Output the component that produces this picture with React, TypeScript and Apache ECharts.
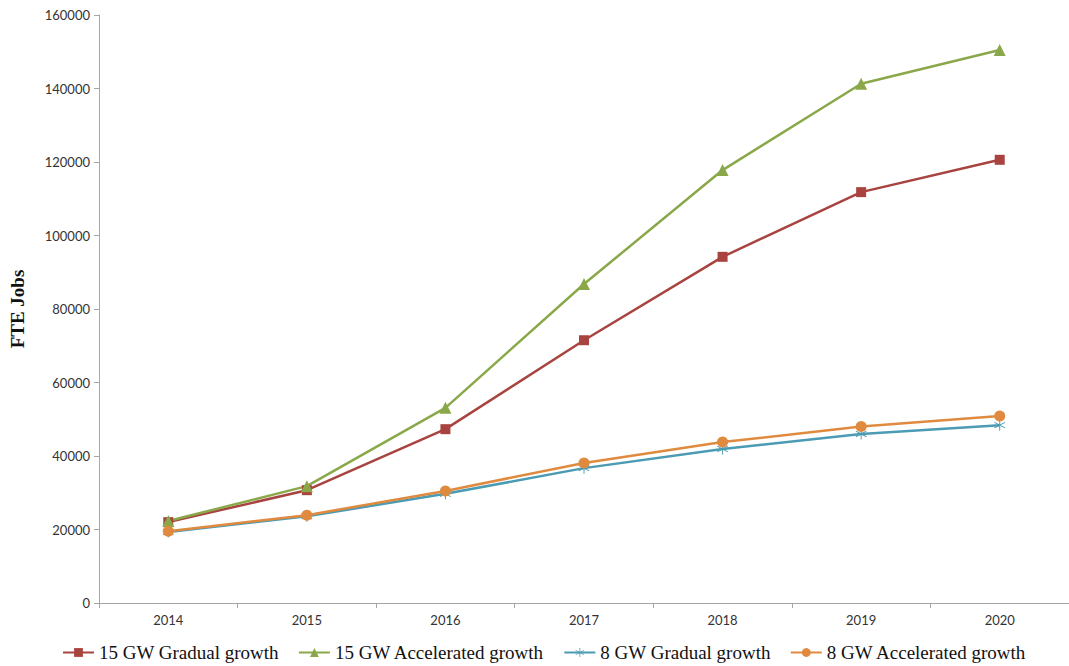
import React, { useEffect, useRef } from "react";
import * as echarts from "echarts";

const years = ["2014", "2015", "2016", "2017", "2018", "2019", "2020"];
const gw15Gradual = [22000, 30700, 47300, 71500, 94200, 111800, 120600];
const gw15Accelerated = [22300, 31800, 53100, 86800, 117800, 141300, 150500];
const gw8Gradual = [19300, 23600, 29700, 36700, 41900, 46000, 48400];
const gw8Accelerated = [19500, 23900, 30500, 38100, 43800, 48000, 50900];

const asterisk =
  "path://M-0.4,-5L0.4,-5L0.4,5L-0.4,5Z M-4.5,-2.2L-4.1,-2.9L4.5,2.2L4.1,2.9Z M-4.5,2.2L-4.1,2.9L4.5,-2.2L4.1,-2.9Z";

export default function App() {
  const ref = useRef<HTMLDivElement>(null);
  useEffect(() => {
    const chart = echarts.init(ref.current!, null, { renderer: "svg" });
    const serif = "'Liberation Serif', 'DejaVu Serif', serif";
    const sans = "Lato, 'Open Sans', sans-serif";
    const mk = (name: string, data: number[], color: string, symbol: string, size: number) => ({
      name,
      type: "line",
      data,
      symbol,
      symbolSize: size,
      showAllSymbol: true,
      lineStyle: { color, width: 2.5 },
      itemStyle: { color },
    });
    chart.setOption({
      animation: false,
      backgroundColor: "#ffffff",
      grid: { left: 99, top: 15, width: 976.5, height: 588 },
      legend: {
        left: 62,
        top: 643,
        padding: 0,
        itemWidth: 31,
        itemHeight: 11,
        itemGap: 19,
        textStyle: { fontFamily: serif, fontSize: 19, color: "#111" },
        data: [
          "15 GW Gradual growth",
          "15 GW Accelerated growth",
          "8 GW Gradual growth",
          "8 GW Accelerated growth",
        ],
      },
      xAxis: {
        type: "category",
        data: years,
        boundaryGap: true,
        axisLine: { lineStyle: { color: "#a6a6a6", width: 1 } },
        axisTick: { show: true, length: 5, lineStyle: { color: "#a6a6a6" } },
        axisLabel: { fontFamily: sans, fontSize: 13, color: "#333", margin: 10 },
      },
      yAxis: {
        type: "value",
        min: 0,
        max: 160000,
        interval: 20000,
        name: "FTE Jobs",
        nameLocation: "middle",
        nameGap: 72,
        nameTextStyle: { fontFamily: serif, fontSize: 19, fontWeight: "bold", color: "#111" },
        splitLine: { show: false },
        axisLine: { show: true, lineStyle: { color: "#a6a6a6", width: 1 } },
        axisTick: { show: true, length: 5, lineStyle: { color: "#a6a6a6" } },
        axisLabel: {
          fontFamily: sans,
          fontSize: 13,
          color: "#333",
          margin: 9,
          formatter: (v: number) => String(v),
        },
      },
      series: [
        mk("15 GW Gradual growth", gw15Gradual, "#a8433f", "rect", 10),
        mk("15 GW Accelerated growth", gw15Accelerated, "#8aa84a", "triangle", 12),
        mk("8 GW Gradual growth", gw8Gradual, "#4a9bb3", asterisk, 11),
        mk("8 GW Accelerated growth", gw8Accelerated, "#e08a3f", "circle", 11),
      ],
    });
    return () => chart.dispose();
  }, []);
  return (
    <div
      ref={ref}
      style={{ position: "absolute", left: 0, top: 0, width: 1069, height: 666 }}
    />
  );
}
